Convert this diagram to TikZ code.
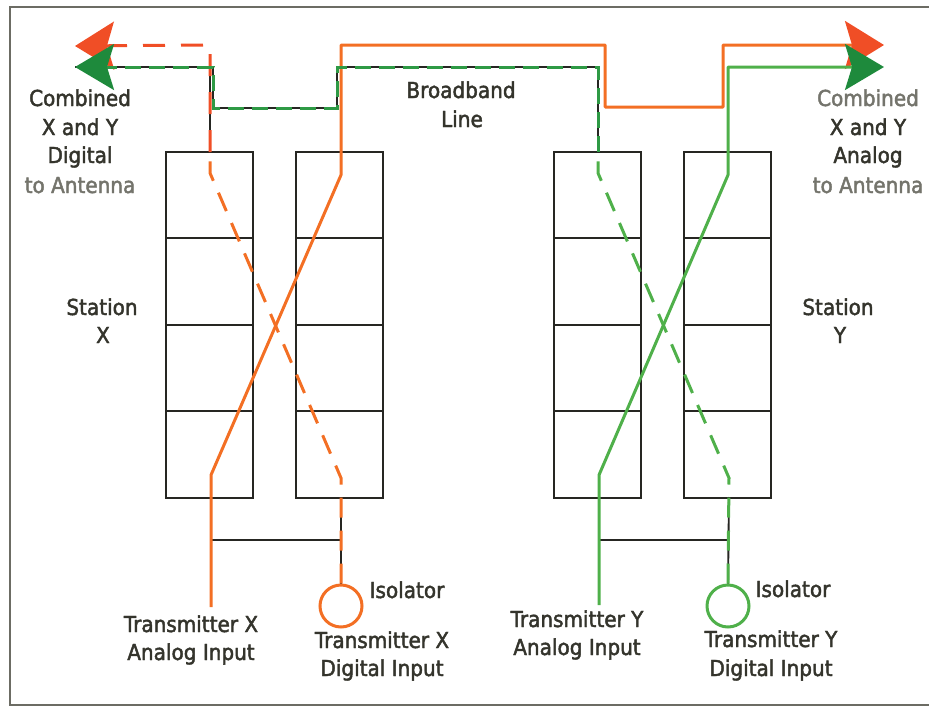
\documentclass[tikz,border=0pt]{standalone}
\usepackage{fontspec}
\setmainfont{DejaVu Sans}
\newfontfamily\lblfont{DejaVu Sans}[FakeStretch=0.91,FakeBold=2]
\usetikzlibrary{arrows.meta}
\definecolor{orL}{HTML}{F36F24}
\definecolor{orA}{HTML}{F04E26}
\definecolor{grL}{HTML}{4FB04A}
\definecolor{grD}{HTML}{2E9A45}
\definecolor{grA}{HTML}{1E8A3C}
\definecolor{txt}{HTML}{34342C}
\definecolor{txtL}{HTML}{74746C}
\definecolor{boxc}{HTML}{262622}
\definecolor{framec}{HTML}{6C6C64}
\begin{document}
\begin{tikzpicture}[x=1pt,y=-1pt,
  cell/.style={draw=boxc, line width=1.9pt, minimum width=87pt, minimum height=86.4pt, inner sep=0pt, outer sep=0pt, anchor=north west},
  lbl/.style={font={\lblfont\fontsize{22}{28}\selectfont}, text=txt, anchor=base, inner sep=0pt},
  lbll/.style={lbl, text=txtL},
  wire/.style={draw=boxc, line width=1.9pt},
  anaX/.style={draw=orL, line width=3pt, line join=round},
  anaY/.style={draw=grL, line width=3pt, line join=round},
  digX/.style={draw=orL, line width=3pt, dash pattern=on 20pt off 13pt},
  digXt/.style={draw=orA, line width=3pt, dash pattern=on 22pt off 16pt},
  digY/.style={draw=grL, line width=3pt, dash pattern=on 20pt off 13pt},
  digYt/.style={draw=grD, line width=3pt, dash pattern=on 16pt off 8pt},
  tipO/.style={-{Stealth[length=39pt,width=48pt,inset=7pt,color=orA]}},
  tipG/.style={-{Stealth[length=39pt,width=46pt,inset=7pt,color=grA]}},
  iso/.style={circle, line width=3pt, minimum size=42pt, inner sep=0pt}
]
\useasboundingbox (0,0) rectangle (929,707);
% frame
\draw[draw=framec, line width=2.5pt] (929,7) -- (10,7) -- (10,705) -- (929,705);

% station cells
\foreach \c/\x in {xa/166, xb/296, ya/554, yb/684}{
  \foreach \r/\y in {1/152, 2/238.4, 3/324.8, 4/411.2}{
    \node[cell] (\c\r) at (\x,\y) {};
  }
}

% coordinates
\coordinate (xa0) at (211,607);
\coordinate (xa1) at (211,475);
\coordinate (xa2) at (341,175);
\coordinate (xa3) at (341,45);
\coordinate (xa4) at (605,45);
\coordinate (xa5) at (605,107);
\coordinate (xa6) at (723,107);
\coordinate (xa7) at (723,45);
\coordinate (tipR1) at (884,45);

\coordinate (ya0) at (599,605);
\coordinate (ya1) at (599,475);
\coordinate (ya2) at (728,175);
\coordinate (ya3) at (728,67);
\coordinate (tipR2) at (884,67);

\coordinate (xd1) at (341,478);
\coordinate (xd2) at (210,173);
\coordinate (xdb) at (210,152);
\coordinate (xdm) at (210,67);
\coordinate (xd3) at (210,45);
\coordinate (tipL1) at (75,46);

\coordinate (yd1) at (729,478);
\coordinate (yd2) at (598,173);
\coordinate (ydb) at (598,152);
\coordinate (yd3) at (598,67);
\coordinate (yd4) at (337,67);
\coordinate (yd5) at (337,108);
\coordinate (yd6) at (213,108);
\coordinate (yd7) at (213,67);
\coordinate (tipL2) at (75,67);

\coordinate (xbot) at (341,497);
\coordinate (ybot) at (729,497);
\coordinate (hx1) at (211,540);
\coordinate (hx2) at (341,540);
\coordinate (hy1) at (599,540);
\coordinate (hy2) at (729,540);

% isolators
\node[iso, draw=orL] (isoX) at (341,606) {};
\node[iso, draw=grL] (isoY) at (728,606) {};

% black physical lines
\draw[wire] (tipL2) -- (yd7) -- (yd6) -- (yd5) -- (yd4) -- (yd3) -- (ydb);
\draw[wire] (xdm) -- (xdb);
\draw[wire] (xbot) -- (isoX.north);
\draw[wire] (ybot) -- (isoY.north);
\draw[wire] (hx1) -- (hx2);
\draw[wire] (hy1) -- (hy2);

% digital X (orange dashed)
\draw[digX] (isoX.north) -- (xd1) -- (xd2) -- (xdb);
\draw[digXt, tipO] (xdb) -- (xd3) -- (tipL1);

% analog X (orange solid)
\draw[anaX, tipO] (xa0) -- (xa1) -- (xa2) -- (xa3) -- (xa4) -- (xa5) -- (xa6) -- (xa7) -- (tipR1);

% digital Y (green dashed)
\draw[digY] (isoY.north) -- (yd1) -- (yd2) -- (ydb);
\draw[digYt, tipG] (ydb) -- (yd3) -- (yd4) -- (yd5) -- (yd6) -- (yd7) -- (tipL2);

% analog Y (green solid)
\draw[anaY, tipG] (ya0) -- (ya1) -- (ya2) -- (ya3) -- (tipR2);

% labels
\node[lbl] (l1) at (80,106) {Combined};
\node[lbl] (l2) at (80,135) {X and Y};
\node[lbl] (l3) at (80,163) {Digital};
\node[lbll] (l4) at (80,193) {to Antenna};

\node[lbll] (r1) at (868,106) {Combined};
\node[lbl] (r2) at (868,135) {X and Y};
\node[lbl] (r3) at (868,163) {Analog};
\node[lbll] (r4) at (868,193) {to Antenna};

\node[lbl] (bb1) at (461,98) {Broadband};
\node[lbl] (bb2) at (462,127) {Line};

\node[lbl] (sx1) at (102,315) {Station};
\node[lbl] (sx2) at (103,343) {X};
\node[lbl] (sy1) at (838,315) {Station};
\node[lbl] (sy2) at (840,343) {Y};

\node[lbl] (tx1) at (191,632) {Transmitter X};
\node[lbl] (tx2) at (191,660) {Analog Input};
\node[lbl] (ix) at (407,598) {Isolator};
\node[lbl] (dx1) at (382,648) {Transmitter X};
\node[lbl] (dx2) at (382,676) {Digital Input};

\node[lbl] (ty1) at (577,627) {Transmitter Y};
\node[lbl] (ty2) at (577,655) {Analog Input};
\node[lbl] (iy) at (793,597) {Isolator};
\node[lbl] (dy1) at (771,647) {Transmitter Y};
\node[lbl] (dy2) at (771,676) {Digital Input};
\end{tikzpicture}
\end{document}
